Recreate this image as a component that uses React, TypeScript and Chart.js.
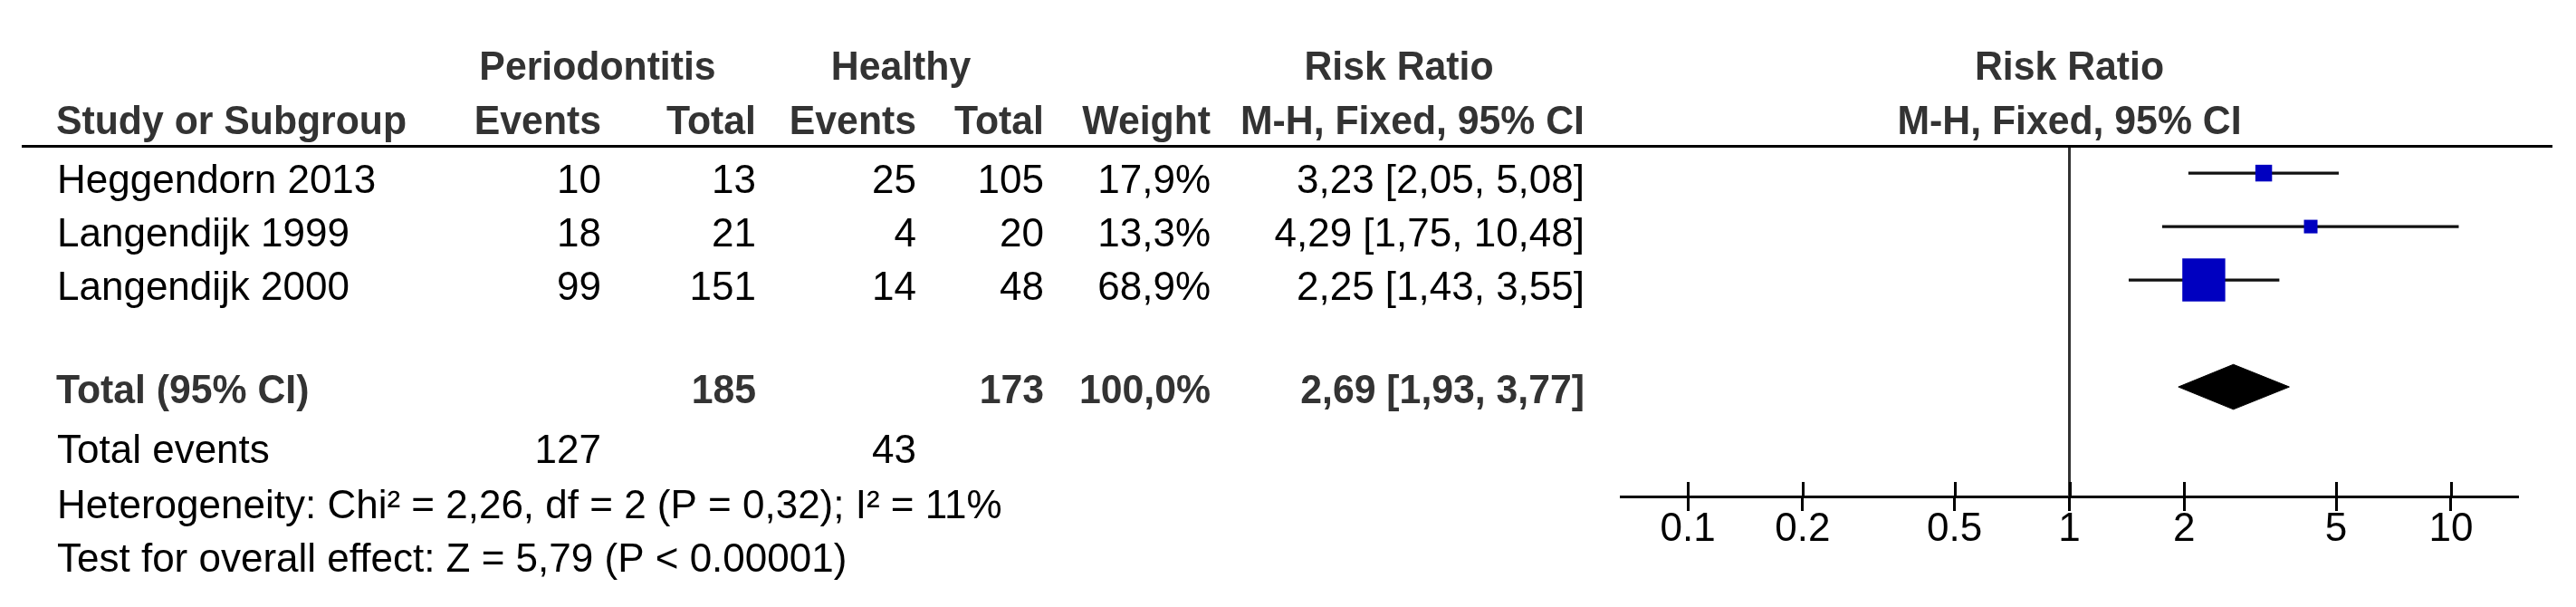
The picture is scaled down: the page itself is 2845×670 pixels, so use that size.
import React, { useEffect, useRef } from 'react';
import { Chart, registerables } from 'chart.js';

Chart.register(...registerables);

// ---------- data ----------
const studies = ['Heggendorn 2013', 'Langendijk 1999', 'Langendijk 2000'];
const perioEvents = [10, 18, 99];
const perioTotal = [13, 21, 151];
const healthyEvents = [25, 4, 14];
const healthyTotal = [105, 20, 48];
const weights = [17.9, 13.3, 68.9];
const riskRatios = [3.23, 4.29, 2.25];
const ciLower = [2.05, 1.75, 1.43];
const ciUpper = [5.08, 10.48, 3.55];

const pooledRR = 2.69;
const pooledLower = 1.93;
const pooledUpper = 3.77;
const totalPerio = 185;
const totalHealthy = 173;
const totalWeight = 100.0;
const eventsPerio = 127;
const eventsHealthy = 43;

const heterogeneityText = 'Heterogeneity: Chi\u00B2 = 2,26, df = 2 (P = 0,32); I\u00B2 = 11%';
const overallText = 'Test for overall effect: Z = 5,79 (P < 0.00001)';

const tickValues = [0.1, 0.2, 0.5, 1, 2, 5, 10];
const tickLabels = ['0.1', '0.2', '0.5', '1', '2', '5', '10'];

// ---------- layout / style constants ----------
const W = 2845;
const H = 670;
const FAMILY = '"Liberation Sans", Arial, Helvetica, sans-serif';
const REG = `44px ${FAMILY}`;
const BOLD = `bold 45px ${FAMILY}`;
const BOLD_SQUEEZE = 0.95;
const BOLD_COLOR = '#333333';
const X_MIN = Math.pow(10, -1.1758);
const X_MAX = Math.pow(10, 1.1758);
const Y_MIN = 0.49;
const Y_MAX = 7.05;
const STUDY_ROWS = [1, 2, 3];
const TOTAL_ROW = 5;
const DIAMOND_HALF = 0.42;
const MARKER_COLOR = '#0000C0';

const fmt2 = (v: number) => v.toFixed(2).replace('.', ',');
const fmtW = (v: number) => v.toFixed(1).replace('.', ',') + '%';
const markerSide = (w: number) => 2.45 * Math.pow(w, 0.7);

const COL = {
  name: 63,
  pEvents: 664,
  pTotal: 835,
  hEvents: 1012,
  hTotal: 1153,
  weight: 1337,
  rr: 1750,
};

const tablePlugin = {
  id: 'forestTable',
  afterDraw(chart: any) {
    const ctx: CanvasRenderingContext2D = chart.ctx;
    const xs = chart.scales.x;
    const ys = chart.scales.y;
    ctx.save();

    // header rule
    ctx.strokeStyle = '#000';
    ctx.lineWidth = 3;
    ctx.beginPath();
    ctx.moveTo(24, 161.5);
    ctx.lineTo(2819, 161.5);
    ctx.stroke();

    // upper halves of axis ticks
    ctx.beginPath();
    tickValues.forEach((v) => {
      const px = Math.round(xs.getPixelForValue(v)) + 0.5;
      ctx.moveTo(px, xs.top - 16);
      ctx.lineTo(px, xs.top);
    });
    ctx.stroke();

    const txt = (s: string, x: number, y: number, align: CanvasTextAlign, bold = false) => {
      ctx.save();
      ctx.font = bold ? BOLD : REG;
      ctx.fillStyle = bold ? BOLD_COLOR : '#000';
      ctx.textAlign = align;
      ctx.textBaseline = 'alphabetic';
      ctx.translate(x, y);
      if (bold) ctx.scale(BOLD_SQUEEZE, 1);
      ctx.fillText(s, 0, 0);
      ctx.restore();
    };

    const nullX = xs.getPixelForValue(1);

    // header row 1
    txt('Periodontitis', 660, 88, 'center', true);
    txt('Healthy', 995, 88, 'center', true);
    txt('Risk Ratio', 1545, 88, 'center', true);
    txt('Risk Ratio', nullX, 88, 'center', true);
    // header row 2
    txt('Study or Subgroup', 62, 148, 'left', true);
    txt('Events', COL.pEvents, 148, 'right', true);
    txt('Total', COL.pTotal, 148, 'right', true);
    txt('Events', COL.hEvents, 148, 'right', true);
    txt('Total', COL.hTotal, 148, 'right', true);
    txt('Weight', COL.weight, 148, 'right', true);
    txt('M-H, Fixed, 95% CI', COL.rr, 148, 'right', true);
    txt('M-H, Fixed, 95% CI', nullX, 148, 'center', true);

    // study rows
    studies.forEach((name, i) => {
      const by = ys.getPixelForValue(STUDY_ROWS[i]) + 22;
      txt(name, COL.name, by, 'left');
      txt(String(perioEvents[i]), COL.pEvents, by, 'right');
      txt(String(perioTotal[i]), COL.pTotal, by, 'right');
      txt(String(healthyEvents[i]), COL.hEvents, by, 'right');
      txt(String(healthyTotal[i]), COL.hTotal, by, 'right');
      txt(fmtW(weights[i]), COL.weight, by, 'right');
      txt(`${fmt2(riskRatios[i])} [${fmt2(ciLower[i])}, ${fmt2(ciUpper[i])}]`, COL.rr, by, 'right');
    });

    // total row
    const ty = ys.getPixelForValue(TOTAL_ROW) + 18;
    txt('Total (95% CI)', 62, ty, 'left', true);
    txt(String(totalPerio), COL.pTotal, ty, 'right', true);
    txt(String(totalHealthy), COL.hTotal, ty, 'right', true);
    txt(fmtW(totalWeight), COL.weight, ty, 'right', true);
    txt(`${fmt2(pooledRR)} [${fmt2(pooledLower)}, ${fmt2(pooledUpper)}]`, COL.rr, ty, 'right', true);

    // footer
    txt('Total events', COL.name, 511, 'left');
    txt(String(eventsPerio), COL.pEvents, 511, 'right');
    txt(String(eventsHealthy), COL.hEvents, 511, 'right');
    txt(heterogeneityText, COL.name, 572, 'left');
    txt(overallText, COL.name, 631, 'left');

    ctx.restore();
  },
};

export default function App() {
  const ref = useRef<HTMLCanvasElement>(null);

  useEffect(() => {
    document.body.style.margin = '0';
    if (!ref.current) return;

    const markerData = studies.map((_, i) => ({ x: riskRatios[i], y: STUDY_ROWS[i] }));
    const markerRadii = weights.map((w) => markerSide(w) / Math.SQRT2);

    const ciDatasets = studies.map((_, i) => ({
      type: 'line' as const,
      data: [
        { x: ciLower[i], y: STUDY_ROWS[i] },
        { x: ciUpper[i], y: STUDY_ROWS[i] },
      ],
      borderColor: '#111111',
      borderWidth: 3.3,
      pointRadius: 0,
      fill: false,
      tension: 0,
    }));

    const diamond = {
      type: 'line' as const,
      data: [
        { x: pooledLower, y: TOTAL_ROW },
        { x: pooledRR, y: TOTAL_ROW - DIAMOND_HALF },
        { x: pooledUpper, y: TOTAL_ROW },
        { x: pooledRR, y: TOTAL_ROW + DIAMOND_HALF },
        { x: pooledLower, y: TOTAL_ROW },
      ],
      borderColor: '#000',
      backgroundColor: '#000',
      borderWidth: 1,
      pointRadius: 0,
      fill: 'shape',
      tension: 0,
    };

    const nullLine = {
      type: 'line' as const,
      data: [
        { x: 1, y: Y_MIN },
        { x: 1, y: Y_MAX },
      ],
      borderColor: '#333333',
      borderWidth: 3,
      pointRadius: 0,
      fill: false,
    };

    const chart = new Chart(ref.current, {
      type: 'scatter',
      data: {
        datasets: [
          {
            type: 'scatter',
            data: markerData,
            pointStyle: 'rect',
            pointRadius: markerRadii,
            pointBackgroundColor: MARKER_COLOR,
            pointBorderWidth: 0,
            backgroundColor: MARKER_COLOR,
            borderWidth: 0,
          } as any,
          diamond as any,
          ...(ciDatasets as any[]),
          nullLine as any,
        ],
      },
      options: {
        animation: false,
        responsive: false,
        maintainAspectRatio: false,
        devicePixelRatio: 1,
        layout: { padding: { left: 1790, right: W - 2781, top: 161, bottom: 0 } },
        plugins: {
          legend: { display: false },
          tooltip: { enabled: false },
        },
        events: [],
        scales: {
          x: {
            type: 'logarithmic',
            position: 'bottom',
            min: X_MIN,
            max: X_MAX,
            bounds: 'data',
            afterBuildTicks: (scale: any) => {
              scale.ticks = tickValues.map((v) => ({ value: v }));
            },
            afterFit: (scale: any) => {
              scale.height = H - 548;
            },
            border: { display: true, color: '#000', width: 3 },
            grid: {
              display: true,
              drawOnChartArea: false,
              drawTicks: true,
              tickLength: 16,
              tickWidth: 3,
              tickColor: '#000',
            },
            ticks: {
              autoSkip: false,
              maxRotation: 0,
              minRotation: 0,
              padding: 0,
              color: '#000',
              font: { family: FAMILY, size: 44, lineHeight: 0.93 },
              callback: (_v: any, i: number) => tickLabels[i],
            },
          },
          y: {
            type: 'linear',
            display: false,
            min: Y_MIN,
            max: Y_MAX,
            reverse: true,
            bounds: 'data',
          },
        },
      } as any,
      plugins: [tablePlugin],
    });

    return () => chart.destroy();
  }, []);

  return (
    <canvas
      ref={ref}
      width={W}
      height={H}
      style={{ display: 'block', width: W, height: H }}
    />
  );
}
